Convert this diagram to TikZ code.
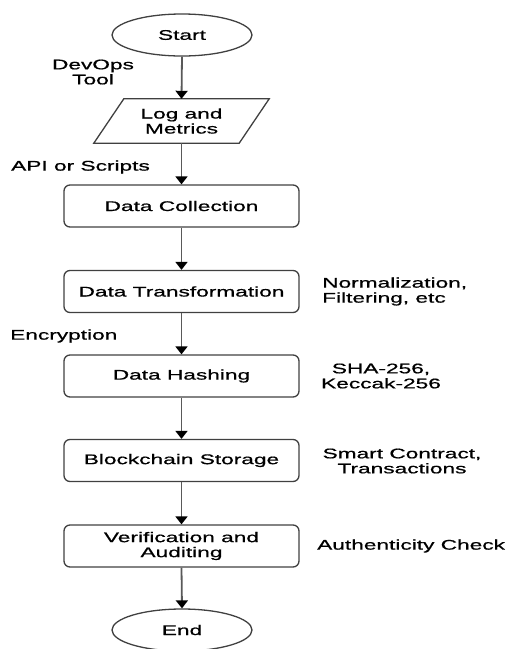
\documentclass[tikz,border=0pt]{standalone}
\usepackage{fontspec}
\setmainfont{Liberation Sans}[FakeStretch=1.62,FakeBold=0.8]
\usetikzlibrary{shapes.geometric,arrows.meta}
\begin{document}
\begin{tikzpicture}[x=1pt,y=-1pt,
  every node/.style={font=\fontsize{14}{15}\selectfont, text=black},
  boxline/.style={draw=black!75, line width=1.3pt},
  procbox/.style={boxline, rectangle, rounded corners=6pt, minimum width=235pt, minimum height=42pt, inner sep=0pt, align=center},
  term/.style={boxline, ellipse, minimum width=140pt, minimum height=42pt, inner sep=0pt},
  flow/.style={draw=black!65, line width=1.8pt, -{Triangle[width=12pt,length=8pt,fill=black,color=black]}},
  lbl/.style={inner sep=0pt, align=center}
]
\useasboundingbox (0,0) rectangle (511,649);
\node[term] (start) at (182,35) {Start};
\node[rectangle, minimum width=115pt, minimum height=44pt, inner sep=0pt, align=center] (logs) at (181.5,121) {Log and\\Metrics};
\draw[boxline] ([xshift=-30pt]logs.south west) -- (logs.north west) -- ([xshift=30pt]logs.north east) -- (logs.south east) -- cycle;
\node[procbox] (dc) at (181.5,206) {Data Collection};
\node[procbox] (dt) at (181.5,291.5) {Data Transformation};
\node[procbox] (dh) at (181.5,376) {Data Hashing};
\node[procbox] (bs) at (181.5,460.5) {Blockchain Storage};
\node[procbox] (va) at (181.5,546) {Verification and\\Auditing};
\node[term] (end) at (182,630) {End};

\draw[flow] (start.south) -- (logs.north);
\draw[flow] (logs.south) -- (dc.north);
\draw[flow] (dc.south) -- (dt.north);
\draw[flow] (dt.south) -- (dh.north);
\draw[flow] (dh.south) -- (bs.north);
\draw[flow] (bs.south) -- (va.north);
\draw[flow] (va.south) -- (end.north);

\node[lbl] (l1) at (93,72) {DevOps\\Tool};
\node[lbl] (l2) at (80.5,167) {API or Scripts};
\node[lbl, anchor=west, align=left] (l3) at (322,291.5) {Normalization,\\Filtering, etc};
\node[lbl, anchor=west] (l4) at (10,336) {Encryption};
\node[lbl] (l5) at (381,376) {SHA-256,\\Keccak-256};
\node[lbl] (l6) at (402,461) {Smart Contract,\\Transactions};
\node[lbl, anchor=west] (l7) at (317,546) {Authenticity Check};
\end{tikzpicture}
\end{document}
